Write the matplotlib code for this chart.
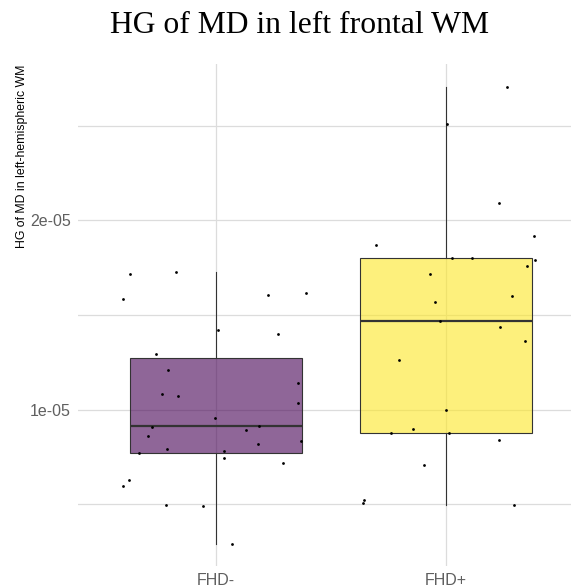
import matplotlib
matplotlib.use("Agg")
import matplotlib.pyplot as plt
import numpy as np

groups = ["FHD-", "FHD+"]

# values in units of 1e-05, jitter offsets in category units
fhd_minus = [1.725, 1.717, 1.615, 1.603, 1.584, 1.420, 1.398, 1.291, 1.208, 1.138,
             1.083, 1.072, 1.033, 0.954, 0.913, 0.908, 0.892, 0.860, 0.832, 0.816,
             0.790, 0.778, 0.769, 0.741, 0.717, 0.626, 0.594, 0.495, 0.490, 0.289]
fhd_minus_jit = [-0.175, -0.375, 0.394, 0.225, -0.403, 0.009, 0.269, -0.259, -0.209, 0.359,
                 -0.233, -0.164, 0.359, -0.003, 0.189, -0.278, 0.133, -0.295, 0.371, 0.183,
                 -0.211, 0.036, -0.336, 0.036, 0.290, -0.379, -0.403, -0.218, -0.058, 0.071]
fhd_plus = [2.707, 2.511, 2.093, 1.919, 1.871, 1.801, 1.801, 1.788, 1.757, 1.717,
            1.598, 1.571, 1.469, 1.435, 1.360, 1.261, 0.996, 0.897, 0.876, 0.876,
            0.838, 0.707, 0.524, 0.508, 0.495]
fhd_plus_jit = [0.266, 0.006, 0.230, 0.382, -0.302, 0.029, 0.113, 0.387, 0.355, -0.070,
                0.288, -0.048, -0.025, 0.234, 0.346, -0.204, 0.001, -0.141, -0.240, 0.016,
                0.230, -0.093, -0.356, -0.360, 0.297]

data = [np.array(fhd_minus) * 1e-5, np.array(fhd_plus) * 1e-5]
jitter = [fhd_minus_jit, fhd_plus_jit]
fills = ["#440154", "#FDE725"]

W, H = 571, 588
fig = plt.figure(figsize=(W / 100, H / 100), dpi=100)
left, right, top, bottom = 78, 571, 64, 566
ax = fig.add_axes([left / W, 1 - bottom / H, (right - left) / W, (bottom - top) / H])

grid_c = "#dcdcdc"
ax.set_axisbelow(True)
ax.grid(True, which="major", color=grid_c, linewidth=0.9)
ax.grid(True, which="minor", axis="y", color=grid_c, linewidth=0.9)

bp = ax.boxplot(data, positions=[1, 2], widths=0.75, patch_artist=True,
                showfliers=False, showcaps=False, whis=1.5,
                medianprops=dict(color="#333333", linewidth=1.6),
                whiskerprops=dict(color="#333333", linewidth=0.8),
                boxprops=dict(edgecolor="#333333", linewidth=0.8))
for patch, c in zip(bp["boxes"], fills):
    patch.set_facecolor(matplotlib.colors.to_rgba(c, 0.6))
    patch.set_zorder(2)

for i, (vals, jit) in enumerate(zip(data, jitter)):
    ax.scatter(np.array(jit) + i + 1, vals, s=4, color="black", zorder=3, linewidths=0)

ax.set_xlim(0.4, 2.545)
ax.set_ylim(0.1725e-5, 2.827e-5)
ax.set_xticks([1, 2])
ax.set_xticklabels(groups)
ax.set_yticks([1e-5, 2e-5])
ax.set_yticklabels(["1e-05", "2e-05"])
ax.set_yticks([0.5e-5, 1.5e-5, 2.5e-5], minor=True)
ax.tick_params(which="both", length=0, colors="#5f5f5f", labelsize=11.5, pad=5)
for lab in ax.get_xticklabels() + ax.get_yticklabels():
    lab.set_fontfamily("Liberation Sans")
for s in ax.spines.values():
    s.set_visible(False)

fig.text(300 / W, 1 - 33 / H, "HG of MD in left frontal WM", ha="center", va="baseline",
         fontsize=22.8, family="Liberation Serif", color="black")
fig.text(22 / W, 1 - 65 / H, "HG of MD in left-hemispheric WM", rotation=90,
         ha="center", va="top", fontsize=8.8, family="Liberation Sans", color="black")

fig.savefig("out.png", dpi=100)
